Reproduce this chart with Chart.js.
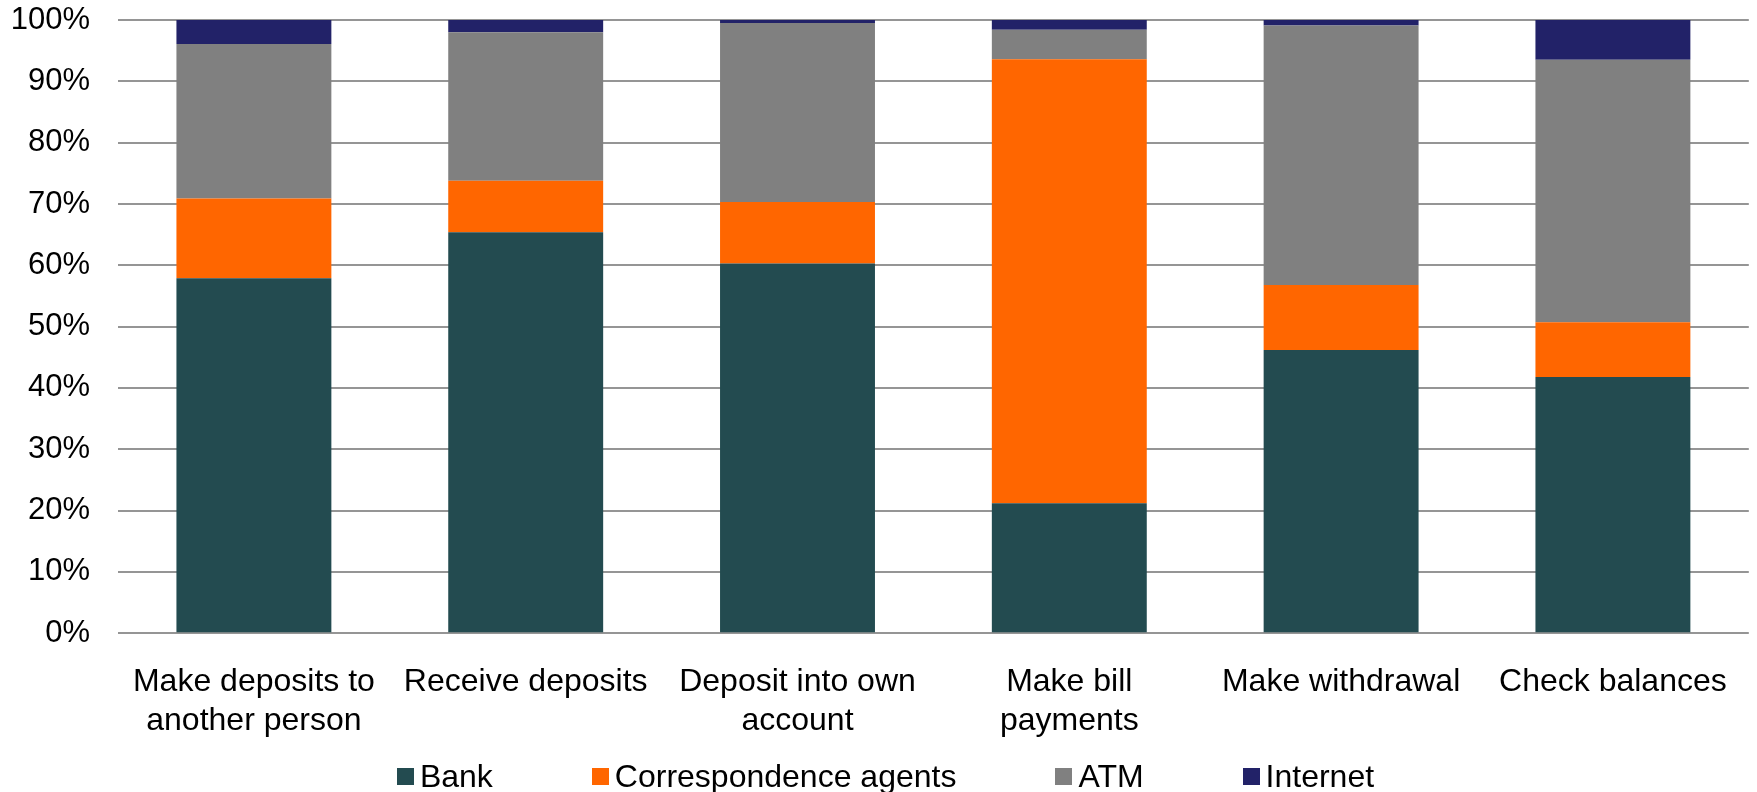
<!DOCTYPE html>
<html>
<head>
<meta charset="utf-8">
<script src="https://cdn.jsdelivr.net/npm/chart.js@4.4.1/dist/chart.umd.min.js"></script>
<style>
  body { margin: 0; background: #fff; }
  #wrap { position: relative; width: 1757px; height: 792px; overflow: hidden; }
  #legend {
    position: absolute; left: 14px; right: 0; top: 758px;
    display: flex; justify-content: center; align-items: center; gap: 99px;
    font-family: Arial, "Liberation Sans", sans-serif; font-size: 32px; color: #000;
  }
  #legend .item { display: flex; align-items: center; white-space: nowrap; }
  #legend .box { width: 17px; height: 17px; margin-right: 6px; }
</style>
</head>
<body>
<div id="wrap">
  <canvas id="channelChart" width="1757" height="792"></canvas>
  <div id="legend"></div>
</div>
<script>
// categories and stacked shares (%) per channel
const categories = [
    ['Make deposits to', 'another person'],
    'Receive deposits',
    ['Deposit into own', 'account'],
    ['Make bill', 'payments'],
    'Make withdrawal',
    'Check balances'
];
const bank = [57.9, 65.4, 60.3, 21.2, 46.2, 41.8];
const agents = [13.0, 8.4, 10.0, 72.4, 10.6, 8.9];
const atm = [25.2, 24.2, 29.2, 4.8, 42.3, 42.8];
const internet = [3.9, 2.0, 0.5, 1.6, 0.9, 6.5];

const seriesNames = ['Bank', 'Correspondence agents', 'ATM', 'Internet'];
const seriesColors = ['#234b50', '#ff6600', '#808080', '#222268'];
const yTicks = [0, 10, 20, 30, 40, 50, 60, 70, 80, 90, 100];

const fontFamily = 'Arial, "Liberation Sans", sans-serif';

const datasets = [bank, agents, atm, internet].map((values, i) => ({
    label: seriesNames[i],
    data: values,
    backgroundColor: seriesColors[i],
    borderWidth: 0,
    barPercentage: 0.57,
    categoryPercentage: 1.0
}));

const ctx = document.getElementById('channelChart').getContext('2d');
const chart = new Chart(ctx, {
    type: 'bar',
    data: { labels: categories, datasets: datasets },
    options: {
        responsive: false,
        animation: false,
        devicePixelRatio: 1,
        layout: { padding: { left: 0, right: 3, top: 0, bottom: 22 } },
        plugins: {
            legend: { display: false },
            tooltip: { enabled: false }
        },
        scales: {
            x: {
                stacked: true,
                grid: { display: false, drawTicks: false },
                border: { display: false },
                ticks: {
                    color: '#000',
                    font: { family: fontFamily, size: 32, lineHeight: 1.2 },
                    padding: 30,
                    maxRotation: 0,
                    autoSkip: false
                }
            },
            y: {
                stacked: true,
                min: 0,
                max: 100,
                afterBuildTicks: (axis) => {
                    axis.ticks = yTicks.map(v => ({ value: v }));
                },
                afterFit: (axis) => {
                    // fixed axis width, and keep tick padding from pushing the plot down
                    axis.width = 118;
                    axis.paddingTop = 20;
                    axis.paddingBottom = 0;
                },
                grid: { color: '#959595', lineWidth: 2, drawTicks: false },
                border: { display: false },
                ticks: {
                    color: '#000',
                    font: { family: fontFamily, size: 31 },
                    padding: 28,
                    callback: (v) => v + '%'
                }
            }
        }
    }
});

// legend built from the chart's own datasets
const legend = document.getElementById('legend');
chart.data.datasets.forEach((ds) => {
    const item = document.createElement('div');
    item.className = 'item';
    const box = document.createElement('span');
    box.className = 'box';
    box.style.background = ds.backgroundColor;
    const text = document.createElement('span');
    text.textContent = ds.label;
    item.appendChild(box);
    item.appendChild(text);
    legend.appendChild(item);
});
</script>
</body>
</html>
